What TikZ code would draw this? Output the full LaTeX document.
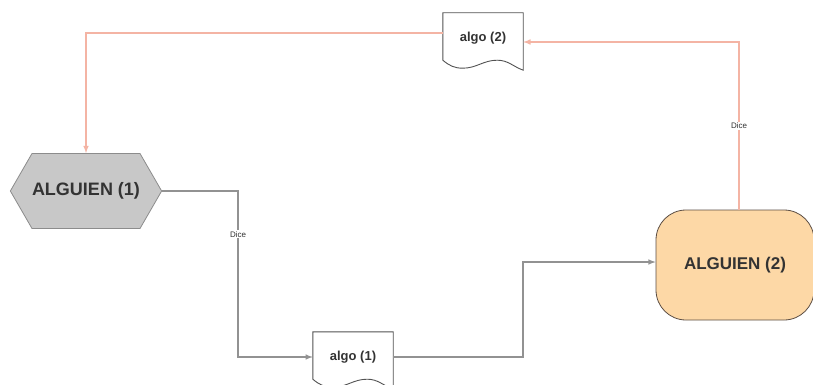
\documentclass[tikz,border=0pt]{standalone}
\usepackage{fontspec}
\setmainfont{Liberation Sans}
\usetikzlibrary{positioning,shapes.symbols}

\definecolor{gline}{HTML}{929292}
\definecolor{sline}{HTML}{F4B4A4}
\definecolor{hexfill}{HTML}{C8C8C8}
\definecolor{hexdraw}{HTML}{8C8C8C}
\definecolor{whofill}{HTML}{FDD8A6}
\definecolor{whodraw}{HTML}{5C4E44}
\definecolor{ink}{HTML}{333333}

\tikzset{
  who1/.style={signal, signal to=east and west, signal pointer angle=120,
    fill=hexfill, draw=hexdraw, thick, minimum width=148pt, minimum height=75pt,
    inner sep=0pt, text=ink, font=\bfseries\fontsize{18}{20}\selectfont},
  who2/.style={rectangle, rounded corners=30pt, fill=whofill, draw=whodraw,
    thick, minimum width=158pt, minimum height=110pt, text=ink,
    font=\bfseries\fontsize{17}{20}\selectfont},
  msg/.style={rectangle, minimum width=80pt, minimum height=50pt, text=ink,
    font=\bfseries\fontsize{13}{15}\selectfont},
  docline/.style={draw=ink!85, line width=0.9pt},
  says/.style={fill=white, inner sep=1pt, text=ink, font=\fontsize{8}{9}\selectfont},
  gflow/.style={draw=gline, line width=1.5pt, -latex},
  sflow/.style={draw=sline, line width=1.5pt, -latex}
}

\begin{document}
\begin{tikzpicture}[x=1pt,y=-1pt]
\useasboundingbox[fill=white] (0,0) rectangle (813,385);
\clip (0,0) rectangle (813,385);

\node (hex) [who1] at (86,191) {ALGUIEN (1)};
\node (who) [who2] at (735,265) {ALGUIEN (2)};
\node (m2) [msg] at (483,38) {algo (2)};
\node (m1) [msg] at (353,357) {algo (1)};

% document outlines with wavy bottom
\foreach \m in {m1,m2}
  \draw[docline] (\m.north west) -- (\m.north east) -- ([yshift=-7pt]\m.south east)
    to[out=160,in=0] ([xshift=-26pt,yshift=3pt]\m.south east)
    to[out=180,in=0] ([xshift=20pt,yshift=-5pt]\m.south west)
    to[out=180,in=-40] ([yshift=3pt]\m.south west) -- cycle;

\draw[gflow] (hex.east) -- ++(76,0) |- (m1.west) node[says, pos=0.13] {Dice};
\draw[gflow] (m1.east) -- ++(130,0) |- ([yshift=3pt]who.west);
\draw[sflow] ([xshift=4pt]who.north) |- ([yshift=-4pt]m2.east) node[says, pos=0.25] {Dice};
\draw[sflow] ([yshift=5pt]m2.west) -| (hex.north);

\end{tikzpicture}
\end{document}
